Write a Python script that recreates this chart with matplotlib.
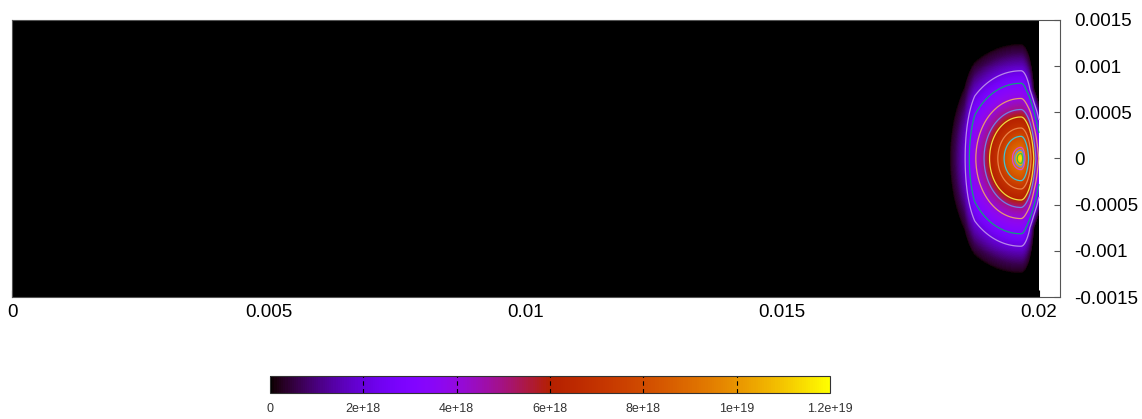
import numpy as np
import matplotlib
matplotlib.use("Agg")
import matplotlib.pyplot as plt

plt.rcParams['font.family'] = ['Liberation Sans', 'DejaVu Sans']

# ---- data ----
peak_x = 0.019649          # location of the density maximum (m)
peak_y = 0.0
# vertical profile through the peak: distance (mm) -> value (1e18)
prof_r_mm = [0.0, 0.054, 0.09, 0.12, 0.24, 0.33, 0.45, 0.53, 0.65, 0.815, 0.95, 1.05, 1.15, 1.22, 1.25]
prof_val = [11.7, 11.0, 10.0, 9.0, 8.0, 7.0, 6.0, 5.0, 4.0, 3.0, 2.0, 1.3, 0.6, 0.3, 0.0]
# horizontal stretch of the contours left of the peak (by distance from peak)
left_dx_mm = [0.0, 0.9, 1.1, 1.5]
left_ratio = [1.38, 1.35, 1.13, 1.10]
# horizontal stretch right of the peak (by height and by distance)
right_dy_mm = [0.0, 0.25, 0.5, 0.75, 1.3]
right_ratio_dy = [0.62, 0.55, 0.45, 0.30, 0.30]
right_dx_mm = [0.0, 0.16, 0.25, 0.35]
right_factor_dx = [1.0, 1.0, 0.9, 0.85]

contour_levels = [2e18, 3e18, 4e18, 5e18, 6e18, 7e18, 8e18, 9e18, 1e19, 1.1e19]
contour_colors = ['#b888e8', '#109e80', '#e89a70', '#7080e8', '#eedc40',
                  '#ea8448', '#40c4d4', '#dc48cc', '#5a88ea', '#40bc40']

x_data_max = 0.02
x_axis_max = 0.020409
y_min, y_max = -0.0015, 0.0015
x_ticks = [0, 0.005, 0.01, 0.015, 0.02]
x_ticklabels = ['0', '0.005', '0.01', '0.015', '0.02']
y_ticks = [0.0015, 0.001, 0.0005, 0, -0.0005, -0.001, -0.0015]
y_ticklabels = ['0.0015', '0.001', '0.0005', '0', '-0.0005', '-0.001', '-0.0015']
cb_max = 1.2e19
cb_ticks = [0, 2e18, 4e18, 6e18, 8e18, 1e19, 1.2e19]
cb_ticklabels = ['0', '2e+18', '4e+18', '6e+18', '8e+18', '1e+19', '1.2e+19']

# ---- field ----
xs = np.linspace(0, x_data_max, 2060)
ys = np.linspace(y_min, y_max, 560)
X, Y = np.meshgrid(xs, ys)
dx = (X - peak_x) * 1e3
dy = (Y - peak_y) * 1e3
ratio_left = np.interp(-dx, left_dx_mm, left_ratio)
ratio_right = (np.interp(np.abs(dy), right_dy_mm, right_ratio_dy)
               * np.interp(dx, right_dx_mm, right_factor_dx))
ratio = np.where(dx < 0, ratio_left, ratio_right)
rho = np.hypot(dx / ratio, dy)
Z = np.interp(rho, prof_r_mm, prof_val, right=0.0) * 1e18

W, H = 1142, 419
fig = plt.figure(figsize=(W / 100, H / 100), dpi=100)
ax = fig.add_axes([12 / W, 1 - 297 / H, (1060 - 12) / W, (297 - 20) / H])

im = ax.imshow(Z, origin='lower', extent=[0, x_data_max, y_min, y_max],
               cmap='gnuplot', vmin=0, vmax=cb_max, aspect='auto',
               interpolation='nearest')
ax.contour(X, Y, Z, levels=contour_levels, colors=contour_colors, linewidths=0.9)

ax.set_xlim(0, x_axis_max)
ax.set_ylim(y_min, y_max)
ax.set_xticks(x_ticks)
ax.set_xticklabels(x_ticklabels, fontsize=13.5)
ax.yaxis.tick_right()
ax.set_yticks(y_ticks)
ax.set_yticklabels(y_ticklabels, fontsize=13.5)
ax.tick_params(axis='x', direction='in', length=5, pad=5, color='black')
ax.tick_params(axis='y', direction='in', length=4, pad=10, color='#555555')
for s in ax.spines.values():
    s.set_color('#555555')
    s.set_linewidth(0.8)

cax = fig.add_axes([270 / W, 1 - 393 / H, 560 / W, 17 / H])
cb = fig.colorbar(im, cax=cax, orientation='horizontal')
cb.set_ticks(cb_ticks)
cb.set_ticklabels(cb_ticklabels)
cax.tick_params(length=0, labelsize=9, pad=7, labelcolor='#333333')
cb.outline.set_linewidth(0.8)
cb.outline.set_edgecolor('#333333')
for t in cb_ticks[1:-1]:
    cax.axvline(t, color='black', linestyle=(0, (4, 3)), linewidth=0.8)

fig.savefig('out.png', dpi=100)
